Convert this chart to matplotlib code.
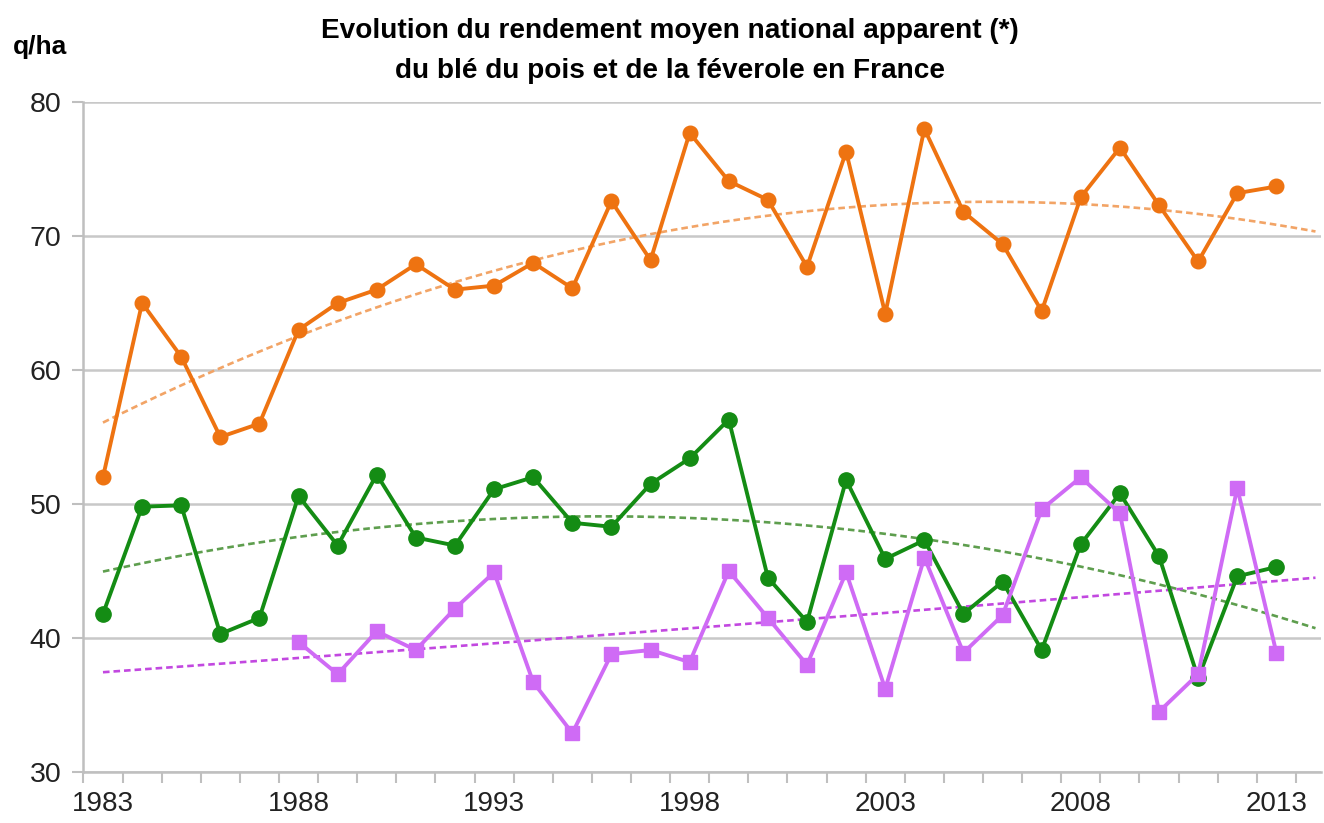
import numpy as np
import matplotlib.pyplot as plt
from matplotlib.ticker import FixedLocator

plt.rcParams['font.family'] = ['Liberation Sans Narrow', 'Liberation Sans', 'DejaVu Sans']

# ---- données (q/ha) ----
annees = list(range(1983, 2014))
ble = [52.0, 65.0, 61.0, 55.0, 56.0, 63.0, 65.0, 66.0, 67.9, 66.0,
       66.3, 68.0, 66.1, 72.6, 68.2, 77.7, 74.1, 72.7, 67.7, 76.3,
       64.2, 78.0, 71.8, 69.4, 64.4, 72.9, 76.6, 72.3, 68.1, 73.2, 73.7]
pois = [41.8, 49.8, 49.9, 40.3, 41.5, 50.6, 46.9, 52.2, 47.5, 46.9,
        51.1, 52.0, 48.6, 48.3, 51.5, 53.4, 56.3, 44.5, 41.2, 51.8,
        45.9, 47.3, 41.8, 44.2, 39.1, 47.0, 50.8, 46.1, 37.0, 44.6, 45.3]
feverole = [np.nan, np.nan, np.nan, np.nan, np.nan, 39.7, 37.3, 40.5, 39.1, 42.2,
            44.9, 36.7, 32.9, 38.8, 39.1, 38.2, 45.0, 41.5, 38.0, 44.9,
            36.2, 46.0, 38.9, 41.7, 49.6, 52.0, 49.3, 34.5, 37.3, 51.2, 38.9]
labels_x = ['1983', '1988', '1993', '1998', '2003', '2008', '2013']

c_ble = '#EE7311'
c_pois = '#148C14'
c_fev = '#CF6BF5'

fig = plt.figure(figsize=(13.24, 8.23), dpi=100)
ax = fig.add_axes([0.063, 0.062, 0.935, 0.814])

x = np.array(annees, dtype=float)
xt = np.linspace(1983, 2014, 200)

# courbes de tendance (polynome ordre 2)
for serie, col in [(ble, '#F2A466'), (pois, '#5E9E4E'), (feverole, '#C248E0')]:
    y = np.array(serie, dtype=float)
    ok = ~np.isnan(y)
    p = np.polyfit(x[ok] - 1983, y[ok], 2)
    ax.plot(xt, np.polyval(p, xt - 1983), color=col, lw=1.9, ls=(0, (2.5, 1.5)), zorder=2)

ax.plot(x, ble, color=c_ble, lw=2.8, marker='o', ms=10.5, zorder=3)
ax.plot(x, pois, color=c_pois, lw=2.8, marker='o', ms=11, zorder=3)
ax.plot(x, feverole, color=c_fev, lw=2.8, marker='s', ms=10.5, zorder=4)

ax.set_ylim(30, 80)
ax.set_xlim(1982.5, 2014.15)
ax.set_yticks([30, 40, 50, 60, 70, 80])
ax.set_xticks([int(l) for l in labels_x])
ax.set_xticklabels(labels_x)
ax.xaxis.set_minor_locator(FixedLocator(np.arange(1982.5, 2014, 1)))
ax.tick_params(axis='x', which='major', length=0, labelsize=20, pad=14, colors='#222222')
ax.tick_params(axis='x', which='minor', length=8, width=1.5, color='#BFBFBF')
ax.tick_params(axis='y', length=8, width=1.5, color='#BFBFBF', labelsize=20.5,
               labelcolor='#222222', pad=8)

ax.grid(axis='y', color='#C8C8C8', lw=1.8)
ax.set_axisbelow(True)
for s in ['top', 'right']:
    ax.spines[s].set_visible(False)
for s in ['left', 'bottom']:
    ax.spines[s].set_color('#BFBFBF')
    ax.spines[s].set_linewidth(1.8)

fig.text(0.506, 0.962, 'Evolution du rendement moyen national apparent (*)',
         ha='center', va='center', fontsize=20.2, fontweight='bold')
fig.text(0.506, 0.914, 'du blé du pois et de la féverole en France',
         ha='center', va='center', fontsize=20.2, fontweight='bold')
fig.text(0.01, 0.943, 'q/ha', ha='left', va='center', fontsize=19, fontweight='bold')

fig.savefig('out.png', dpi=100)
